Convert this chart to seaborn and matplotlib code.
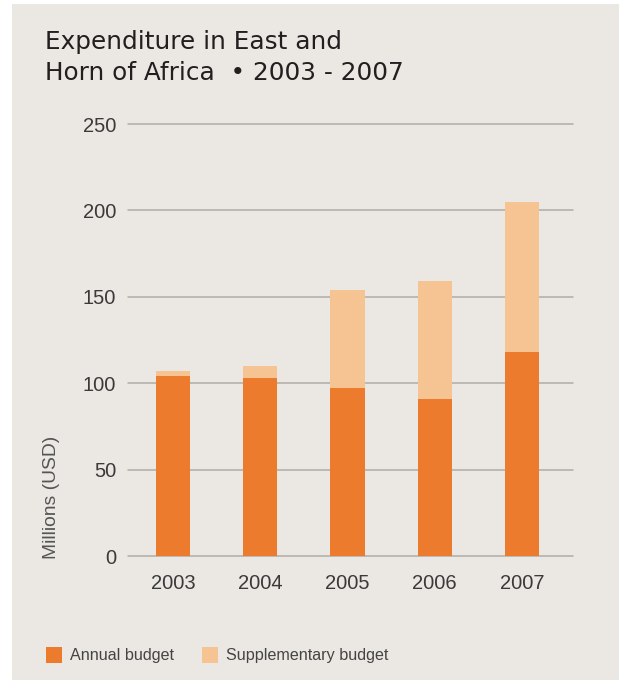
import matplotlib
matplotlib.use("Agg")
import matplotlib.pyplot as plt
from matplotlib.patches import Rectangle
import seaborn as sns
import pandas as pd

years = ["2003", "2004", "2005", "2006", "2007"]
annual_budget = [104, 103, 97, 91, 118]
total_budget = [107, 110, 154, 159, 205]
y_ticks = [0, 50, 100, 150, 200, 250]

title_line1 = "Expenditure in East and"
title_line2 = "Horn of Africa  \u2022 2003 - 2007"
y_label = "Millions (USD)"
series_names = ["Annual budget", "Supplementary budget"]

df = pd.DataFrame({"year": years, "annual": annual_budget, "total": total_budget})

ANNUAL = "#ec7b2d"
SUPP = "#f6c493"
PAPER = "#ebe8e3"
GRID = "#b0ada8"
TXT = "#3a3a3a"

sns.set_theme(style="white")
plt.rcParams["font.family"] = ["Liberation Sans", "DejaVu Sans"]

W, H = 619, 684
fig = plt.figure(figsize=(W / 100, H / 100), dpi=100, facecolor="white")
fig.patches.append(Rectangle((12 / W, 4 / H), (W - 12) / W, (H - 8) / H,
                             transform=fig.transFigure, facecolor=PAPER,
                             edgecolor="none", zorder=-10))

ax = fig.add_axes([128 / W, 1 - 556 / H, (573 - 128) / W, (556 - 124) / H])
ax.set_facecolor("none")
ax.set_zorder(2)

sns.barplot(data=df, x="year", y="total", color=SUPP, width=0.39,
            saturation=1, ax=ax, label=series_names[1], zorder=3, linewidth=0)
sns.barplot(data=df, x="year", y="annual", color=ANNUAL, width=0.39,
            saturation=1, ax=ax, label=series_names[0], zorder=4, linewidth=0)

ax.set_xlim(-0.516, 4.585)
ax.set_ylim(0, 250)
ax.set_yticks(y_ticks)
for t in y_ticks:
    ax.axhline(t, color=GRID, lw=1.1, zorder=1, clip_on=False)
for s in ax.spines.values():
    s.set_visible(False)
ax.set_xlabel("")
ax.set_ylabel("")
ax.tick_params(axis="y", length=0, pad=8.5, labelsize=14.5, labelcolor=TXT)
ax.tick_params(axis="x", length=0, pad=13, labelsize=14.5, labelcolor=TXT)
if ax.get_legend() is not None:
    ax.get_legend().remove()

fig.text(52 / W, 1 - 497 / H, y_label, rotation=90, ha="center", va="center",
         fontsize=13.9, color="#555555")

fig.text(45 / W, 1 - 49.5 / H, title_line1, fontsize=17.8, color="#231f20",
         family="DejaVu Sans", va="baseline", ha="left")
fig.text(45 / W, 1 - 80 / H, title_line2, fontsize=17.8, color="#231f20",
         family="DejaVu Sans", va="baseline", ha="left")

handles, labels = ax.get_legend_handles_labels()
order = [labels.index(n) for n in series_names]
fig.legend([handles[i] for i in order], [labels[i] for i in order],
           loc="center left", bbox_to_anchor=(31 / W, 1 - 655 / H), ncol=2,
           frameon=False, fontsize=11.6, handlelength=1.0, handleheight=1.2,
           handletextpad=0.5, columnspacing=1.75, labelcolor="#444444")

fig.savefig("out.png", dpi=100, facecolor=fig.get_facecolor())
